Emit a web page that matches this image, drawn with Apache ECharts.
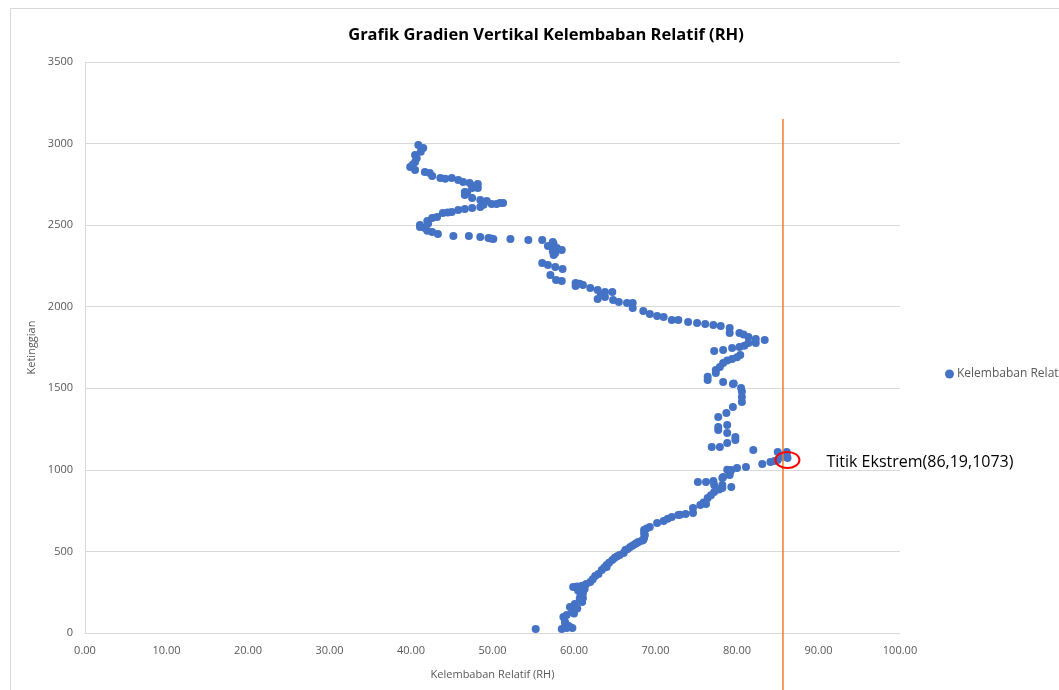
<!DOCTYPE html>
<html lang="en">
<head>
	<meta charset="UTF-8">
	<title>Grafik Gradien Vertikal Kelembaban Relatif</title>
	<style>
		html, body { margin: 0; padding: 0; background: #fff; }
		#chart { width: 1059px; height: 690px; }
	</style>
</head>
<body>
	<div id="chart"></div>
	<script src="https://cdn.jsdelivr.net/npm/echarts@6/dist/echarts.min.js"></script>
	<script>
	// RH (%) per titik
	var rhValues = [
		55.3, 58.5, 59.1, 59.8, 59.5, 58.9, 58.9, 58.7, 59.1, 59.8,
		59.8, 59.5, 60.1, 60.1, 61.0, 61.0, 61.1, 60.8, 61.1, 60.5,
		59.9, 61.0, 61.5, 62.0, 62.6, 63.0, 63.4, 64.0, 64.0, 64.7,
		65.0, 65.6, 66.1, 66.3, 66.9, 67.5, 67.7, 67.9, 68.5, 68.6,
		68.7, 68.6, 69.3, 70.2, 71.0, 72.0, 72.8, 73.7, 74.6, 74.6,
		75.5, 76.2, 76.4, 77.2, 78.2, 79.3, 77.2, 78.2, 75.2, 76.2,
		77.1, 78.2, 78.3, 79.1, 79.1, 79.3, 80.0, 81.1, 83.1, 84.1,
		85.0, 86.2, 86.1, 85.0, 86.1, 82.0, 76.9, 77.9, 78.8, 79.8,
		79.8, 78.8, 77.7, 77.7, 78.8, 77.7, 78.7, 79.5, 80.6, 80.6,
		80.6, 80.5, 79.5, 78.3, 76.4, 76.4, 77.4, 77.4, 78.3, 79.4,
		80.4, 77.2, 78.3, 79.4, 80.3, 81.4, 82.3, 83.4, 82.3, 81.4,
		80.3, 79.1, 79.1, 78.0, 77.1, 76.1, 75.1, 74.0, 72.8, 72.0,
		71.0, 70.2, 69.3, 68.5, 67.2, 67.2, 66.5, 65.5, 64.8, 62.9,
		63.8, 63.8, 64.7, 62.9, 62.0, 61.1, 60.2, 60.2, 58.5, 57.8,
		57.1, 56.1, 56.8, 57.7, 58.6, 57.5, 57.7, 58.5, 57.6, 56.8,
		57.5, 57.4, 56.1, 54.4, 52.2, 50.1, 49.5, 48.5, 47.1, 45.2,
		43.3, 42.6, 41.7, 41.1, 41.1, 42.0, 42.6, 43.2, 43.9, 45.0,
		45.8, 46.6, 47.5, 48.5, 49.9, 50.9, 51.3, 49.3, 48.5, 47.5,
		46.6, 46.6, 47.5, 48.2, 48.2, 47.2, 46.4, 45.8, 45.0, 43.6,
		42.6, 42.3, 41.7, 40.5, 39.9, 40.5, 40.5, 41.5, 40.9,
		59.3, 60.0, 60.4, 60.7, 61.3, 60.4, 62.3, 63.7, 64.3, 65.3,
		66.6, 67.2, 68.3, 68.6, 68.9, 71.5, 73.0, 75.9, 76.8, 77.8,
		78.8, 84.6, 85.6, 86.0, 79.6, 77.9, 78.8, 80.0, 80.9, 80.8,
		63.3, 60.7, 57.4, 57.9, 47.8, 46.9, 42.1, 44.5, 48.9, 50.5,
		44.2, 41.2, 40.7, 40.2, 42.0, 49.8
	];
	// ketinggian (m) per titik
	var heightValues = [
		25, 25, 31, 31, 37, 61, 67, 98, 110, 129,
		141, 159, 166, 178, 190, 202, 215, 230, 245, 260,
		282, 290, 300, 313, 349, 362, 386, 405, 417, 447,
		462, 478, 490, 509, 527, 545, 552, 558, 570, 582,
		600, 631, 650, 674, 687, 711, 723, 729, 736, 766,
		785, 791, 828, 864, 889, 895, 907, 907, 926, 926,
		932, 950, 956, 969, 981, 999, 1011, 1018, 1036, 1048,
		1060, 1073, 1090, 1110, 1110, 1122, 1140, 1140, 1165, 1183,
		1201, 1226, 1244, 1263, 1275, 1324, 1349, 1385, 1416, 1447,
		1480, 1502, 1526, 1539, 1551, 1570, 1594, 1612, 1655, 1680,
		1704, 1729, 1735, 1747, 1753, 1778, 1778, 1796, 1802, 1814,
		1839, 1839, 1870, 1882, 1888, 1894, 1900, 1906, 1919, 1919,
		1937, 1943, 1955, 1974, 1992, 2023, 2023, 2029, 2041, 2047,
		2060, 2090, 2090, 2103, 2115, 2133, 2127, 2146, 2158, 2164,
		2195, 2268, 2256, 2244, 2231, 2317, 2330, 2348, 2348, 2372,
		2385, 2397, 2409, 2409, 2415, 2415, 2421, 2427, 2434, 2434,
		2446, 2458, 2483, 2489, 2501, 2526, 2544, 2550, 2575, 2581,
		2593, 2599, 2605, 2611, 2630, 2636, 2636, 2648, 2654, 2667,
		2685, 2703, 2728, 2728, 2752, 2759, 2765, 2777, 2789, 2789,
		2801, 2820, 2826, 2838, 2857, 2887, 2930, 2973, 2991,
		45, 120, 150, 210, 270, 285, 330, 400, 430, 470,
		515, 536, 565, 610, 640, 700, 725, 800, 845, 880,
		1000, 1055, 1080, 1100, 1530, 1630, 1670, 1690, 1760, 1830,
		2075, 2140, 2340, 2360, 2740, 2700, 2510, 2578, 2625, 2630,
		2785, 2950, 2910, 2870, 2465, 2418
	];
	var xTicks = { min: 0, max: 100, interval: 10 };
	var yTicks = { min: 0, max: 3500, interval: 500 };

	// titik ekstrem + garis bantu
	var extremeRH = 86.19;
	var extremeHeight = 1073;
	var guideRH = 85.64;
	var guideTop = 3150;
	var guideBottom = -360;

	var seriesName = 'Kelembaban Relatif (RH)';
	var fontName = 'Open Sans';

	var points = [];
	for (var i = 0; i < rhValues.length; i++) {
		points.push([rhValues[i], heightValues[i]]);
	}

	var myChart = echarts.init(document.getElementById('chart'));

	var option = {
		animation: false,
		backgroundColor: '#fff',
		textStyle: { fontFamily: fontName },
		title: {
			text: 'Grafik Gradien Vertikal Kelembaban Relatif (RH)',
			left: 541,
			textAlign: 'center',
			top: 22,
			textStyle: {
				fontFamily: fontName,
				fontSize: 16.5,
				fontWeight: 'bold',
				color: '#000'
			}
		},
		legend: {
			left: 940,
			top: 363,
			itemWidth: 9,
			itemHeight: 9,
			itemGap: 4,
			icon: 'circle',
			data: [seriesName],
			textStyle: { color: '#595959', fontSize: 12, padding: [0, 0, 0, -2] }
		},
		grid: {
			left: 85,
			right: 159,
			top: 62,
			bottom: 57,
			containLabel: false
		},
		xAxis: {
			type: 'value',
			min: xTicks.min,
			max: xTicks.max,
			interval: xTicks.interval,
			name: 'Kelembaban Relatif (RH)',
			nameLocation: 'middle',
			nameGap: 36,
			nameTextStyle: { color: '#595959', fontSize: 11 },
			axisLine: { show: true, lineStyle: { color: '#d9d9d9', width: 1 } },
			axisTick: { show: false },
			splitLine: { show: false },
			axisLabel: {
				color: '#595959',
				fontSize: 11,
				margin: 12,
				formatter: function (v) { return v.toFixed(2); }
			}
		},
		yAxis: {
			type: 'value',
			min: yTicks.min,
			max: yTicks.max,
			interval: yTicks.interval,
			name: 'Ketinggian',
			nameLocation: 'middle',
			nameGap: 45,
			nameTextStyle: { color: '#595959', fontSize: 11 },
			axisLine: { show: true, lineStyle: { color: '#d9d9d9', width: 1 } },
			axisTick: { show: false },
			splitLine: { show: true, lineStyle: { color: '#d9d9d9', width: 1 } },
			axisLabel: {
				color: '#595959',
				fontSize: 11,
				margin: 12,
				formatter: function (v) { return String(v); }
			}
		},
		series: [
			{
				name: seriesName,
				type: 'scatter',
				symbolSize: 8,
				itemStyle: { color: '#4472c4', opacity: 1 },
				data: points
			}
		]
	};
	myChart.setOption(option);

	// annotasi seperti shape di excel
	var p = myChart.convertToPixel({ gridIndex: 0 }, [extremeRH, extremeHeight]);
	var gTop = myChart.convertToPixel({ gridIndex: 0 }, [guideRH, guideTop]);
	var gBot = myChart.convertToPixel({ gridIndex: 0 }, [guideRH, guideBottom]);

	myChart.setOption({
		graphic: [
			{
				type: 'rect',
				silent: true,
				shape: { x: 10.5, y: 8.5, width: 1200, height: 800 },
				style: { fill: 'none', stroke: '#d9d9d9', lineWidth: 1 },
				z: -1
			},
			{
				type: 'line',
				silent: true,
				shape: { x1: gTop[0], y1: gTop[1], x2: gBot[0], y2: gBot[1] },
				style: { stroke: '#ed7d31', lineWidth: 1.5 },
				z: 10
			},
			{
				type: 'ellipse',
				silent: true,
				shape: { cx: p[0], cy: p[1] + 2, rx: 12, ry: 8 },
				style: { fill: 'none', stroke: '#ff0000', lineWidth: 2 },
				z: 11
			},
			{
				type: 'text',
				silent: true,
				x: p[0] + 39,
				y: p[1] + 4,
				style: {
					text: 'Titik Ekstrem(86,19,1073)',
					fill: '#000',
					font: '16px "Open Sans"',
					verticalAlign: 'middle'
				},
				z: 11
			}
		]
	});
	</script>
</body>
</html>
